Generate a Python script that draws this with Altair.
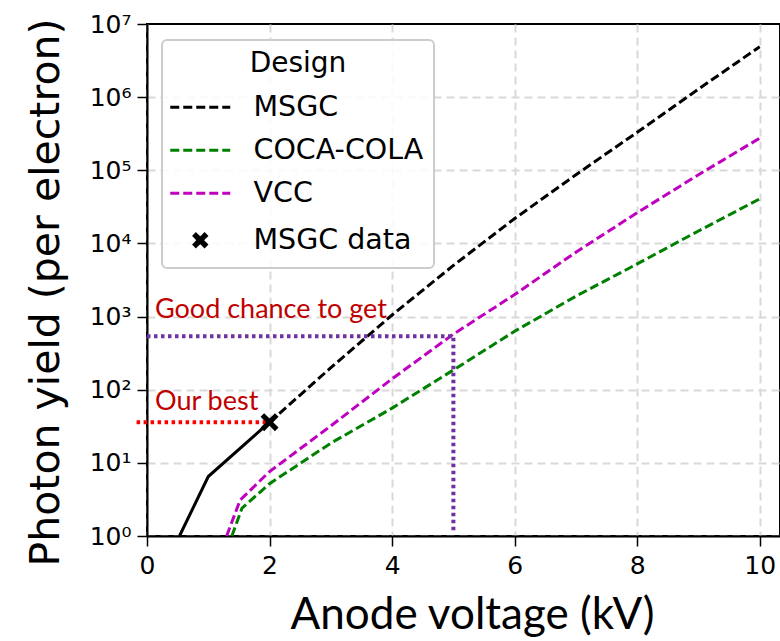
import altair as alt
import pandas as pd

# ---------------- data ----------------
series_names = ["MSGC", "COCA-COLA", "VCC", "MSGC data"]
series_colors = ["#000000", "#008000", "#bf00bf", "#000000"]

msgc_x = [2, 3, 4, 5, 6, 7, 8, 9, 10]
msgc_y = [36, 200, 1050, 5000, 21900, 87000, 331000, 1290000, 4900000]

coca_x = [1.385, 1.55, 2, 3, 4, 5, 6, 7, 8, 9, 10]
coca_y = [1, 2.4, 5.2, 18.6, 56, 186, 630, 1900, 5250, 14800, 40700]

vcc_x = [1.3, 1.52, 2, 3, 4, 5, 6, 7, 8, 9, 10]
vcc_y = [1, 3.1, 7.6, 32, 141, 575, 2000, 7600, 26300, 87000, 275000]

meas_x = [0.53, 1.0, 2.0]
meas_y = [1, 6.5, 36]

data_x = [2.0]
data_y = [36]

best_x = [-0.17, 1.95]
best_y = [36, 36]

goal_x = [0, 5, 5]
goal_y = [540, 540, 1.2]

note_text = ["Good chance to get", "Our best"]
note_x = [0.13, 0.13]
note_y = [950, 52]

x_ticks = [0, 2, 4, 6, 8, 10]
y_ticks = [1, 10, 100, 1000, 10000, 100000, 1000000, 10000000]

# ---------------- tables ----------------
sim_df = pd.concat([
    pd.DataFrame({"v": msgc_x, "y": msgc_y, "series": "MSGC"}),
    pd.DataFrame({"v": coca_x, "y": coca_y, "series": "COCA-COLA"}),
    pd.DataFrame({"v": vcc_x, "y": vcc_y, "series": "VCC"}),
], ignore_index=True)
meas_df = pd.DataFrame({"v": meas_x, "y": meas_y})
data_df = pd.DataFrame({"v": data_x, "y": data_y})
best_df = pd.DataFrame({"v": best_x, "y": best_y, "o": [0, 1]})
goal_df = pd.DataFrame({"v": goal_x, "y": goal_y, "o": [0, 1, 2]})
note_df = pd.DataFrame({"v": note_x, "y": note_y, "t": note_text})

# ---------------- styling ----------------
W, H = 633, 512
xs = alt.Scale(domain=[0, 10.33], nice=False, zero=False)
ys = alt.Scale(type="log", domain=[1, 1e7], nice=False)

X_PLOT = "M-1,-0.6L-0.6,-1L0,-0.4L0.6,-1L1,-0.6L0.4,0L1,0.6L0.6,1L0,0.4L-0.6,1L-1,0.6L-0.4,0Z"
X_LEG = "M-0.42,-0.42L0.42,0.42M-0.42,0.42L0.42,-0.42"
LINE_LEG = "M-2,0L2,0"
DASH = [9, 4]
IS_DATA = "datum.value === 'MSGC data'"

x_axis = alt.Axis(
    values=x_ticks, title="Anode voltage (kV)", grid=True,
    gridColor="#d9d9d9", gridDash=[8, 5], gridWidth=2,
    domainColor="black", domainWidth=2,
    tickColor="black", tickSize=10, tickWidth=1.5,
    labelFont="DejaVu Sans", labelFontSize=25, labelColor="black", labelPadding=7,
    labelFlush=False,
    titleFont="Lato", titleFontSize=44, titleFontWeight="normal", titleColor="black",
    titleX=325, titleY=92, titleBaseline="alphabetic", titleAlign="center",
)
y_axis = alt.Axis(
    values=y_ticks, title="Photon yield (per electron)", grid=True,
    gridColor="#d9d9d9", gridDash=[8, 5], gridWidth=2,
    gridOpacity={"condition": {"test": "datum.value > 5000000", "value": 0}, "value": 1},
    domainColor="black", domainWidth=2,
    tickColor="black", tickSize=10, tickWidth=1.5,
    labelFont="DejaVu Sans", labelFontSize=25, labelColor="black", labelPadding=6,
    labelFlush=False,
    labelExpr="'10' + ['⁰','¹','²','³','⁴','⁵','⁶','⁷'][round(log(datum.value)/LN10)]",
    titleFont="DejaVu Sans", titleFontSize=41, titleFontWeight="normal", titleColor="black",
    titleX=-101, titleY=268, titleBaseline="middle", titleAlign="center", titleAngle=270,
)

legend = alt.Legend(
    title="Design", orient="none", legendX=15, legendY=16,
    titleFont="DejaVu Sans", titleFontSize=28, titleFontWeight="normal", titleColor="black",
    titleAnchor="middle", titlePadding=15,
    labelFont="DejaVu Sans", labelFontSize=28.5, labelColor="black", labelOffset=39,
    labelLimit=400,
    symbolSize=900, symbolOffset=14,
    symbolType=alt.ExprRef(f"{IS_DATA} ? '{X_LEG}' : '{LINE_LEG}'"),
    symbolStrokeWidth=alt.ExprRef(f"{IS_DATA} ? 5.5 : 3"),
    symbolDash=alt.ExprRef(f"{IS_DATA} ? [1, 0] : [9, 4]"),
    padding=10, rowPadding=14,
    fillColor="rgba(255,255,255,0.85)", strokeColor="#cccccc", cornerRadius=5,
)

X = alt.X("v:Q", scale=xs, axis=x_axis)
Y = alt.Y("y:Q", scale=ys, axis=y_axis)

sim = alt.Chart(sim_df).mark_line(strokeWidth=3, strokeDash=DASH).encode(
    x=X, y=Y,
    color=alt.Color("series:N", scale=alt.Scale(domain=series_names, range=series_colors), legend=legend),
)

meas = alt.Chart(meas_df).mark_line(strokeWidth=3, color="black").encode(x=X, y=Y)

best = alt.Chart(best_df).mark_line(strokeWidth=4, color="#ff0000", strokeDash=[3.5, 3.5]).encode(
    x=X, y=Y, order="o:O",
)

goal = alt.Chart(goal_df).mark_line(strokeWidth=4, color="#7030a0", strokeDash=[3.5, 3.5]).encode(
    x=X, y=Y, order="o:O",
)

pt = alt.Chart(data_df).mark_point(shape=X_PLOT, filled=True, size=324, color="black", opacity=1).encode(
    x=X, y=Y,
)

notes = alt.Chart(note_df).mark_text(
    font="Lato", fontSize=27, color="#c00000", align="left", baseline="alphabetic"
).encode(x=X, y=Y, text="t:N")

chart = alt.layer(sim, meas, goal, best, pt, notes).properties(
    width=W, height=H,
    autosize=alt.AutoSizeParams(type="none"),
    padding={"left": 147, "top": 24, "right": 0, "bottom": 105},
    background="white",
).configure_view(stroke="black", strokeWidth=2).configure_legend(strokeWidth=2)

chart.save("out.html", embed_options={"renderer": "svg", "actions": False})
